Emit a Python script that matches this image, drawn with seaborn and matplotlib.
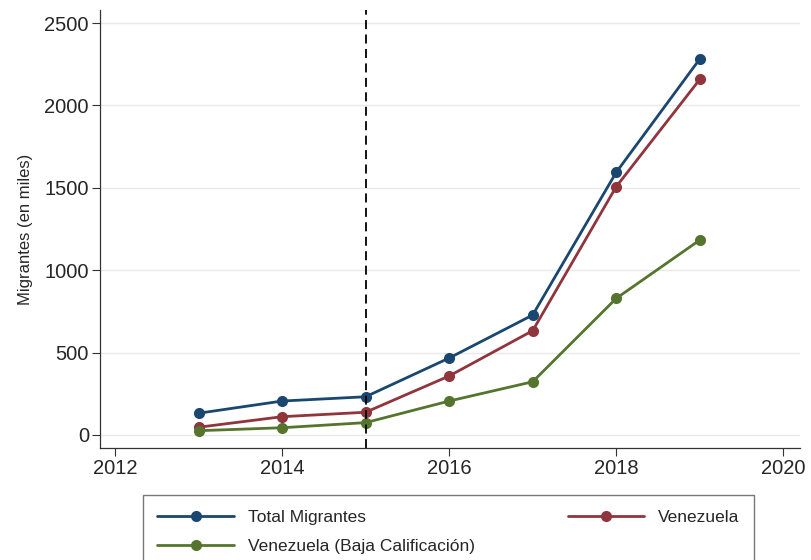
import pandas as pd
import matplotlib
matplotlib.use("Agg")
import matplotlib.pyplot as plt
import seaborn as sns

# Datos (miles de migrantes)
years = [2013, 2014, 2015, 2016, 2017, 2018, 2019]
total_migrantes = [132, 206, 232, 467, 728, 1594, 2282]
venezuela = [47, 111, 138, 358, 633, 1507, 2158]
venezuela_baja = [26, 44, 75, 206, 323, 829, 1183]

series_names = ["Total Migrantes", "Venezuela", "Venezuela (Baja Calificación)"]
colors = ["#1a476f", "#90353b", "#55752f"]

df = pd.DataFrame({
    "year": years * 3,
    "value": total_migrantes + venezuela + venezuela_baja,
    "serie": [series_names[0]] * 7 + [series_names[1]] * 7 + [series_names[2]] * 7,
})

sns.set_style("white")
plt.rcParams["font.family"] = ["Liberation Sans", "DejaVu Sans"]

fig = plt.figure(figsize=(8.11, 5.6), dpi=100)
ax = fig.add_axes([0.1233, 0.2, 0.8631, 0.782])

ax.set_yticks([0, 500, 1000, 1500, 2000, 2500])
ax.grid(axis="y", color="#e8e8e8", linewidth=1)
ax.set_axisbelow(True)

sns.lineplot(data=df, x="year", y="value", hue="serie", palette=colors,
             marker="o", markersize=8, markeredgewidth=0, linewidth=2,
             ax=ax, legend=True)

ax.axvline(2015, color="black", linestyle="--", linewidth=1.3, dashes=(5, 3))

ax.set_xlim(2011.82, 2020.2)
ax.set_ylim(-79, 2579)
ax.set_xticks([2012, 2014, 2016, 2018, 2020])
ax.set_xlabel("")
ax.set_ylabel("Migrantes (en miles)", fontsize=12, labelpad=8)
ax.tick_params(axis="both", labelsize=14.5, direction="out", length=6, width=0.8,
               pad=2, color="#333333", bottom=True, left=True)
for s in ["top", "right"]:
    ax.spines[s].set_visible(False)
for s in ["left", "bottom"]:
    ax.spines[s].set_color("#333333")
    ax.spines[s].set_linewidth(0.9)

handles, labels = ax.get_legend_handles_labels()
ax.get_legend().remove()
order = [0, 2, 1]
leg = fig.legend([handles[i] for i in order], [labels[i] for i in order],
                 loc="upper left", bbox_to_anchor=(0.176, -0.1, 0.754, 0.216),
                 mode="expand", ncol=2, fontsize=12.5, frameon=True, fancybox=False,
                 edgecolor="#555555", handlelength=4.4, handletextpad=0.8,
                 borderpad=0.85, labelspacing=0.78, borderaxespad=0)
leg.get_frame().set_linewidth(1)

fig.savefig("out.png", dpi=100)
